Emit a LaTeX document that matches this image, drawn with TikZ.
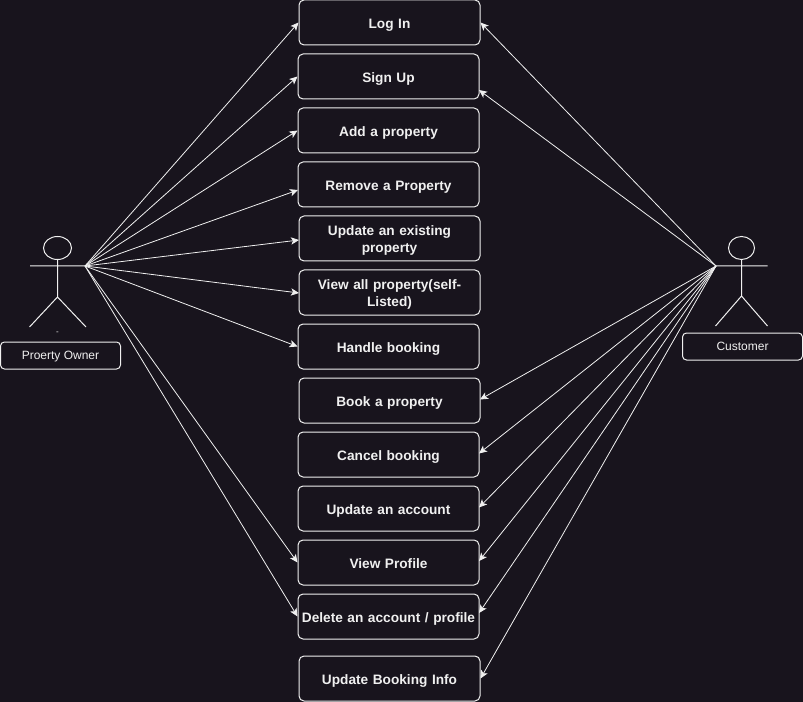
\documentclass[tikz,border=0pt]{standalone}
\usepackage{fontspec}
\setmainfont{Liberation Sans}
\usetikzlibrary{arrows.meta,shapes.geometric}
\definecolor{bg}{HTML}{18141D}
\definecolor{fg}{HTML}{F0F0F0}
\tikzset{
  px/.style={x=0.75pt,y=-0.75pt},
  usecase/.style={draw=fg,rounded corners=3.75pt,line width=0.75pt,minimum width=135.75pt,minimum height=33.75pt,inner sep=0pt,text width=134pt,align=center,text=fg,font=\bfseries\fontsize{10.25}{12.75}\selectfont,
    execute at begin node={\rule{0pt}{11.5pt}},execute at end node={\rule[-3pt]{0pt}{3pt}}},
  rolebox/.style={draw=fg,rounded corners=3pt,line width=0.75pt,minimum width=90pt,minimum height=20.25pt,inner sep=0pt,align=center,text=fg,font=\fontsize{9}{11}\selectfont,
    execute at begin node={\rule{0pt}{8pt}},execute at end node={\rule[-2pt]{0pt}{2pt}}},
  conn/.style={draw=fg,line width=0.6pt,-{Stealth[length=6pt,width=5.5pt,inset=1.5pt]}},
  stick/.style={draw=fg,line width=0.75pt},
}
\begin{document}
\begin{tikzpicture}[px]
\path[use as bounding box,fill=bg] (0,0) rectangle (803,702);
\node[usecase] (login) at (389.5,22.5) {Log In};
\node[usecase] (signup) at (388.5,76.5) {Sign Up};
\node[usecase] (add) at (388.5,130.5) {Add a property};
\node[usecase] (remove) at (388.5,184.5) {Remove a Property};
\node[usecase] (update) at (389.5,238.5) {Update an existing\\property};
\node[usecase] (viewall) at (389.5,292.5) {View all property(self-\\Listed)};
\node[usecase] (handle) at (388.5,346.5) {Handle booking};
\node[usecase] (book) at (389.5,400.5) {Book a property};
\node[usecase] (cancel) at (388.5,454.5) {Cancel booking};
\node[usecase] (account) at (388.5,508.5) {Update an account};
\node[usecase] (profile) at (388.5,562.5) {View Profile};
\node[usecase] (delete) at (388.5,616.5) {Delete an account / profile};
\node[usecase] (bookinfo) at (389.5,678.5) {Update Booking Info};
\node[rolebox] (owner) at (60.5,355.5) {Proerty Owner};
\node[rolebox] (customer) at (742.5,346.5) {Customer};
\node[text=fg,font=\fontsize{6}{7}\selectfont,inner sep=0pt] (dash) at (57.5,333) {-};
% actors
\node[stick,ellipse,minimum width=21pt,minimum height=17.25pt,inner sep=0pt] (ohead) at (57.5,248) {};
\coordinate (ohand) at (85,266);
\coordinate (ohandl) at (30,266);
\coordinate (oneck) at (57.5,266);
\coordinate (ohip) at (57.5,297);
\coordinate (olegl) at (29.5,327);
\coordinate (olegr) at (86,327);
\draw[stick] (ohead) -- (oneck) -- (ohip) (ohandl) -- (ohand) (olegl) -- (ohip) -- (olegr);
\node[stick,ellipse,minimum width=19.5pt,minimum height=17.25pt,inner sep=0pt] (chead) at (741.5,248) {};
\coordinate (chand) at (716,266);
\coordinate (chandr) at (767.5,266);
\coordinate (cneck) at (741.5,266);
\coordinate (chip) at (741.5,296);
\coordinate (clegl) at (715.5,326);
\coordinate (clegr) at (767.5,326);
\draw[stick] (chead) -- (cneck) -- (chip) (chand) -- (chandr) (clegl) -- (chip) -- (clegr);
% owner connectors
\foreach \t in {login,signup,add,handle,profile,delete}
  \draw[conn] (ohand) -- (\t.west);
\coordinate (removew) at (298,190);
\coordinate (updatew) at (299,240);
\coordinate (viewallw) at (299,293);
\foreach \t in {removew,updatew,viewallw}
  \draw[conn] (ohand) -- (\t);
% customer connectors
\coordinate (signupe) at (479,90);
\coordinate (booke) at (480,399.5);
\coordinate (cancele) at (479,453.5);
\coordinate (accounte) at (479,507.5);
\coordinate (profilee) at (479,561);
\coordinate (deletee) at (479,613);
\foreach \t in {signupe,booke,cancele,accounte,profilee,deletee}
  \draw[conn] (chand) -- (\t);
\foreach \t in {login,bookinfo}
  \draw[conn] (chand) -- (\t.east);
\end{tikzpicture}
\end{document}
